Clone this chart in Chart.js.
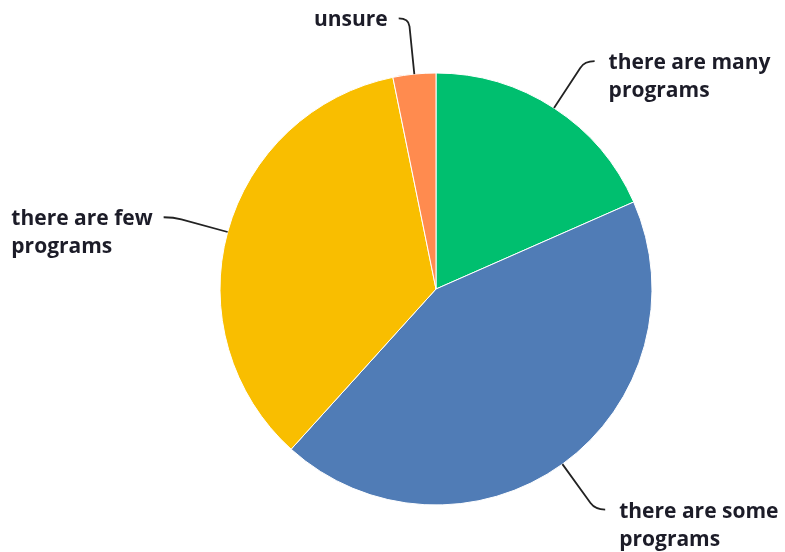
<!DOCTYPE html>
<html>
<head>
<meta charset="utf-8">
<title>Programs</title>
<script src="https://cdn.jsdelivr.net/npm/chart.js@4.4.1/dist/chart.umd.min.js"></script>
<style>
  html, body { margin: 0; padding: 0; background: #fff; }
  #wrap { width: 785px; height: 552px; }
</style>
</head>
<body>
<div id="wrap"><canvas id="myChart" width="785" height="552"></canvas></div>
<script>
// answers, share of responses (%)
const categories = ["there are many programs", "there are some programs", "there are few programs", "unsure"];
const shares = [18.4, 43.3, 35.1, 3.2];
const colors = ["#00bf6f", "#507cb6", "#f9be00", "#ff8b4f"];
// label text split over lines
const labelLines = [
  ["there are many", "programs"],
  ["there are some", "programs"],
  ["there are few", "programs"],
  ["unsure"],
];

const LABEL_FONT = "bold 21px 'Open Sans'";

// leader line out of each slice then the label next to it
const outsideLabels = {
  id: "outsideLabels",
  afterDraw(chart) {
    const ctx = chart.ctx;
    const meta = chart.getDatasetMeta(0);
    meta.data.forEach((arc, i) => {
      const p = arc.getProps(["x", "y", "startAngle", "endAngle", "outerRadius"], true);
      const mid = (p.startAngle + p.endAngle) / 2;
      const dx = Math.cos(mid), dy = Math.sin(mid);
      const ax = p.x + dx * p.outerRadius, ay = p.y + dy * p.outerRadius;
      const len = 56;
      const cx = ax + dx * len, cy = ay + dy * len;
      const side = dx >= 0 ? 1 : -1;
      const ex = cx + side * 10, ey = cy;

      ctx.save();
      ctx.strokeStyle = "#222";
      ctx.lineWidth = 1.8;
      ctx.beginPath();
      ctx.moveTo(ax, ay);
      ctx.lineTo(ax + dx * (len - 8), ay + dy * (len - 8));
      ctx.quadraticCurveTo(cx, cy, ex, ey);
      ctx.stroke();

      ctx.fillStyle = "#1c1c28";
      ctx.font = LABEL_FONT;
      ctx.textBaseline = "middle";
      ctx.textAlign = "left";
      // left-side blocks end just before the line, still left aligned
      let tx = ex + 14;
      if (side < 0) {
        const w = Math.max(...labelLines[i].map((l) => ctx.measureText(l).width));
        tx = ex - 11 - w;
      }
      labelLines[i].forEach((line, k) => {
        ctx.fillText(line, tx, ey + 2 + k * 28);
      });
      ctx.restore();
    });
  },
};

const ctx = document.getElementById("myChart");

new Chart(ctx, {
  type: "pie",
  data: {
    labels: categories,
    datasets: [
      {
        data: shares,
        backgroundColor: colors,
        borderColor: "#ffffff",
        borderWidth: 1,
      },
    ],
  },
  options: {
    responsive: false,
    animation: false,
    layout: {
      padding: { top: 72.5, bottom: 46.5, left: 120, right: 33 },
    },
    plugins: {
      legend: { display: false },
      tooltip: { enabled: false },
    },
  },
  plugins: [outsideLabels],
});
</script>
</body>
</html>
